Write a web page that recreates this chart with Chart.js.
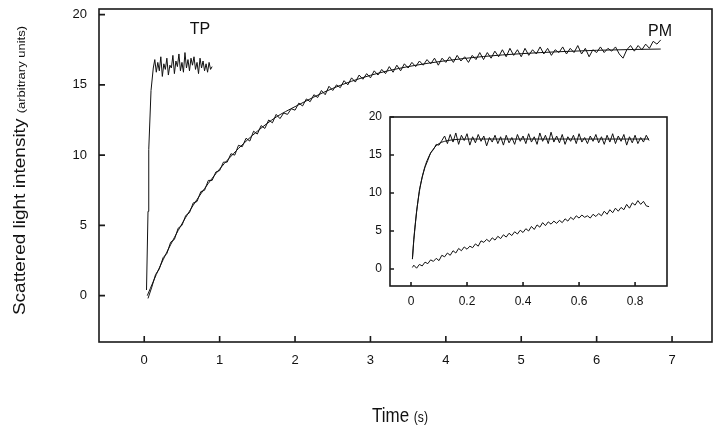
<!DOCTYPE html>
<html>
<head>
<meta charset="utf-8">
<script src="https://cdn.jsdelivr.net/npm/chart.js@4.4.1/dist/chart.umd.min.js"></script>
<style>
  body { margin: 0; background: #fff; }
  #wrap { position: relative; width: 723px; height: 430px; }
  #inset { position: absolute; left: 355px; top: 106px; }
</style>
</head>
<body>
<div id="wrap">
  <canvas id="main" width="723" height="430"></canvas>
  <canvas id="inset" width="322" height="210"></canvas>
</div>
<script>
// ---- data ----
var mainXTicks = [0, 1, 2, 3, 4, 5, 6, 7];
var mainYTicks = [0, 5, 10, 15, 20];
var insetXTicks = [0, 0.2, 0.4, 0.6, 0.8];
var insetYTicks = [0, 5, 10, 15, 20];

// TP trace, main panel (s, arbitrary units)
var tpMainTime = [0.03, 0.05, 0.06, 0.09, 0.12,
  0.14, 0.16, 0.18, 0.20, 0.22, 0.24, 0.26, 0.28, 0.30, 0.32, 0.34, 0.36, 0.38, 0.40, 0.42, 0.44, 0.46, 0.48, 0.50, 0.52,
  0.54, 0.56, 0.58, 0.60, 0.62, 0.64, 0.66, 0.68, 0.70, 0.72, 0.74, 0.76, 0.78, 0.80, 0.82, 0.84, 0.86, 0.88, 0.90];
var tpMainValues = [0.4, 6.0, 10.4, 14.6, 16.2,
  16.8, 15.9, 16.6, 16.0, 17.0, 15.6, 16.5, 16.1, 16.9, 15.7, 16.4, 16.2, 17.1, 15.8, 16.7, 16.3, 17.2, 16.0, 16.6, 15.9,
  17.3, 16.2, 16.8, 16.0, 16.9, 16.4, 17.0, 16.1, 16.6, 15.8, 16.9, 16.2, 16.7, 16.0, 16.5, 15.9, 16.6, 16.1, 16.3];

// PM trace, main panel
var pmMainTime = [
  0.05, 0.1, 0.15, 0.2, 0.25, 0.3, 0.35, 0.4, 0.45, 0.5, 0.55, 0.6, 0.65, 0.7, 0.75, 0.8, 0.85, 0.9, 0.95, 1.0,
  1.05, 1.1, 1.15, 1.2, 1.25, 1.3, 1.35, 1.4, 1.45, 1.5, 1.55, 1.6, 1.65, 1.7, 1.75, 1.8, 1.85, 1.9, 1.95, 2.0,
  2.05, 2.1, 2.15, 2.2, 2.25, 2.3, 2.35, 2.4, 2.45, 2.5, 2.55, 2.6, 2.65, 2.7, 2.75, 2.8, 2.85, 2.9, 2.95, 3.0,
  3.05, 3.1, 3.15, 3.2, 3.25, 3.3, 3.35, 3.4, 3.45, 3.5, 3.55, 3.6, 3.65, 3.7, 3.75, 3.8, 3.85, 3.9, 3.95, 4.0,
  4.05, 4.1, 4.15, 4.2, 4.25, 4.3, 4.35, 4.4, 4.45, 4.5, 4.55, 4.6, 4.65, 4.7, 4.75, 4.8, 4.85, 4.9, 4.95, 5.0,
  5.05, 5.1, 5.15, 5.2, 5.25, 5.3, 5.35, 5.4, 5.45, 5.5, 5.55, 5.6, 5.65, 5.7, 5.75, 5.8, 5.85, 5.9, 5.95, 6.0,
  6.05, 6.1, 6.15, 6.2, 6.25, 6.3, 6.35, 6.4, 6.45, 6.5, 6.55, 6.6, 6.65, 6.7, 6.75, 6.8, 6.85];
var pmMainValues = [
  -0.2, 0.6, 1.5, 1.9, 2.7, 3.0, 3.8, 4.0, 4.8, 5.0, 5.7, 5.9, 6.6, 6.7, 7.4, 7.5, 8.2, 8.2, 8.8, 8.9,
  9.5, 9.5, 10.1, 10.0, 10.7, 10.6, 11.2, 11.0, 11.7, 11.5, 12.1, 11.9, 12.5, 12.3, 12.9, 12.6, 13.0, 12.9, 13.3, 13.2,
  13.7, 13.5, 14.0, 13.8, 14.3, 14.1, 14.6, 14.3, 14.9, 14.6, 15.0, 14.8, 15.3, 15.0, 15.5, 15.2, 15.7, 15.4, 15.8, 15.5,
  16.0, 15.7, 16.1, 15.8, 16.3, 15.9, 16.4, 16.0, 16.5, 16.2, 16.6, 16.3, 16.7, 16.4, 16.8, 16.5, 16.9, 16.4, 16.9, 16.6,
  17.0, 16.6, 17.1, 16.7, 17.0, 16.6, 17.1, 16.8, 17.3, 16.8, 17.3, 16.9, 17.4, 17.0, 17.5, 17.0, 17.6, 17.1, 17.5, 17.0,
  17.6, 17.1, 17.5, 17.2, 17.7, 17.2, 17.6, 17.1, 17.5, 17.3, 17.7, 17.2, 17.6, 17.3, 17.8, 17.2, 17.6, 17.0, 17.5, 17.3,
  17.7, 17.3, 17.6, 17.4, 17.7, 17.2, 16.9, 17.5, 17.8, 17.4, 17.8, 17.5, 17.9, 17.6, 18.1, 17.9, 18.2];

// smooth fit drawn through the PM trace
var pmFitTime = [0.04, 0.2, 0.4, 0.6, 0.8, 1.0, 1.25, 1.5, 1.75, 2.0, 2.5, 3.0, 3.5, 4.0, 4.5, 5.0, 5.5, 6.0, 6.5, 6.85];
var pmFitValues = [0, 1.98, 4.14, 6.01, 7.62, 9.01, 10.47, 11.70, 12.71, 13.45, 14.75, 15.68, 16.30, 16.72, 17.02, 17.22, 17.36, 17.46, 17.52, 17.55];

// inset: first 0.85 s on a finer time base
var insetTime = [0.005,
  0.01, 0.02, 0.03, 0.04, 0.05, 0.06, 0.07, 0.08, 0.09, 0.10, 0.11, 0.12, 0.13, 0.14, 0.15, 0.16, 0.17, 0.18, 0.19, 0.20,
  0.21, 0.22, 0.23, 0.24, 0.25, 0.26, 0.27, 0.28, 0.29, 0.30, 0.31, 0.32, 0.33, 0.34, 0.35, 0.36, 0.37, 0.38, 0.39, 0.40,
  0.41, 0.42, 0.43, 0.44, 0.45, 0.46, 0.47, 0.48, 0.49, 0.50, 0.51, 0.52, 0.53, 0.54, 0.55, 0.56, 0.57, 0.58, 0.59, 0.60,
  0.61, 0.62, 0.63, 0.64, 0.65, 0.66, 0.67, 0.68, 0.69, 0.70, 0.71, 0.72, 0.73, 0.74, 0.75, 0.76, 0.77, 0.78, 0.79, 0.80,
  0.81, 0.82, 0.83, 0.84, 0.85];
var tpInsetValues = [1.3,
  3.8, 7.6, 10.4, 12.1, 13.4, 14.3, 15.3, 15.7, 16.4, 16.3,
  16.9, 17.5, 16.5, 17.7, 16.7, 17.9, 16.4, 17.6, 16.9, 17.8, 16.3, 17.4, 16.6, 17.7, 16.8, 17.5, 16.2, 17.3, 16.7, 17.6,
  16.5, 17.4, 16.3, 17.6, 16.6, 17.3, 16.4, 17.7, 16.8, 17.5, 16.5, 17.8, 16.7, 17.4, 16.4, 17.9, 16.8, 17.6, 16.5, 18.0,
  16.7, 17.5, 16.6, 17.7, 16.4, 17.4, 16.8, 17.6, 16.5, 17.8, 16.7, 17.3, 16.5, 17.5, 16.8, 17.7, 16.6, 17.4, 16.4, 17.6,
  16.7, 17.8, 16.5, 17.5, 16.8, 17.7, 16.3, 17.4, 16.6, 17.6, 16.5, 17.3, 16.7, 17.6, 16.9];
var pmInsetValues = [0.2,
  0.5, 0.1, 0.6, 0.4, 0.9, 0.7, 1.2, 1.0, 1.4, 1.1, 1.8, 1.6, 2.1, 1.8, 2.4, 2.1, 2.7, 2.4, 2.9, 2.6,
  3.0, 2.8, 3.3, 3.0, 3.7, 3.5, 3.9, 3.6, 4.1, 3.8, 4.3, 4.0, 4.5, 4.2, 4.7, 4.4, 4.9, 4.6, 5.1, 4.8,
  5.3, 5.0, 5.6, 5.2, 5.8, 5.5, 6.1, 5.7, 6.2, 5.9, 6.3, 6.0, 6.4, 6.1, 6.6, 6.3, 6.8, 6.5, 7.0, 6.7,
  7.1, 6.8, 7.0, 6.7, 7.2, 6.9, 7.3, 7.0, 7.6, 7.2, 7.8, 7.4, 8.0, 7.6, 8.1, 7.8, 8.5, 8.0, 8.7, 8.4,
  9.0, 8.5, 8.9, 8.3, 8.2];
var tpInsetFitTime = [0.005, 0.01, 0.02, 0.03, 0.04, 0.05, 0.06, 0.08, 0.10, 0.12, 0.15, 0.2, 0.3, 0.5, 0.85];
var tpInsetFitValues = [1.3, 3.9, 7.5, 10.2, 12.1, 13.5, 14.5, 15.8, 16.5, 16.8, 17.0, 17.1, 17.1, 17.1, 17.1];

var FONT = '"Liberation Sans", Arial, Helvetica, sans-serif';
var INK = '#111';

function line(xs, ys, smooth) {
  return {
    data: xs.map(function(x, i) { return { x: x, y: ys[i] }; }),
    showLine: true,
    borderColor: INK,
    borderWidth: 1,
    pointRadius: 0,
    fill: false,
    cubicInterpolationMode: smooth ? 'monotone' : 'default'
  };
}

// box around the plot area with ticks pointing inwards
var framePlugin = {
  id: 'frame',
  afterDraw: function(chart, args, opts) {
    var ctx = chart.ctx, a = chart.chartArea;
    var xs = chart.scales.x, ys = chart.scales.y;
    ctx.save();
    ctx.strokeStyle = '#1a1a1a';
    ctx.lineWidth = opts.lineWidth;
    ctx.strokeRect(a.left, a.top, a.right - a.left, a.bottom - a.top);
    ctx.beginPath();
    xs.ticks.forEach(function(t) {
      var px = xs.getPixelForValue(t.value);
      ctx.moveTo(px, a.bottom);
      ctx.lineTo(px, a.bottom - opts.tick);
    });
    ys.ticks.forEach(function(t) {
      var py = ys.getPixelForValue(t.value);
      ctx.moveTo(a.left, py);
      ctx.lineTo(a.left + opts.tick, py);
    });
    ctx.stroke();
    ctx.restore();
  }
};

// draws text made of parts in different sizes along one baseline
function drawParts(ctx, parts) {
  var total = 0;
  parts.forEach(function(p) {
    ctx.font = p.size + 'px ' + FONT;
    p.w = ctx.measureText(p.text).width;
    total += p.w;
  });
  var x = -total / 2;
  parts.forEach(function(p) {
    ctx.font = p.size + 'px ' + FONT;
    ctx.fillText(p.text, x, 0);
    x += p.w;
  });
}

// axis titles and curve labels of the main panel
var textPlugin = {
  id: 'texts',
  afterDraw: function(chart, args, opts) {
    var ctx = chart.ctx, xs = chart.scales.x, ys = chart.scales.y;
    ctx.save();
    ctx.fillStyle = INK;
    ctx.textBaseline = 'alphabetic';
    ctx.textAlign = 'left';

    ctx.save();
    ctx.translate(25, 170.5);
    ctx.scale(0.87, 1);
    ctx.rotate(-Math.PI / 2);
    drawParts(ctx, [{ text: 'Scattered light intensity ', size: 19 }, { text: '(arbitrary units)', size: 13 }]);
    ctx.restore();

    ctx.save();
    ctx.translate(400, 422);
    ctx.scale(0.87, 1);
    drawParts(ctx, [{ text: 'Time ', size: 19.5 }, { text: '(s)', size: 14 }]);
    ctx.restore();

    ctx.font = '16px ' + FONT;
    ctx.textAlign = 'center';
    ctx.textBaseline = 'middle';
    opts.labels.forEach(function(l) {
      ctx.fillText(l.text, xs.getPixelForValue(l.x), ys.getPixelForValue(l.y));
    });
    ctx.restore();
  }
};

function axis(min, max, tickList, size, pad, fontSize, horizontal) {
  return {
    type: 'linear',
    min: min,
    max: max,
    afterBuildTicks: function(scale) {
      scale.ticks = tickList.map(function(v) { return { value: v }; });
    },
    afterFit: function(scale) {
      if (horizontal) { scale.height = size; } else { scale.width = size; }
      // keep the plot box where the layout padding puts it
      scale.paddingTop = 0;
      scale.paddingBottom = 0;
      scale.paddingLeft = 0;
      scale.paddingRight = 0;
    },
    grid: { display: false, drawTicks: false },
    border: { display: false },
    ticks: {
      padding: pad,
      autoSkip: false,
      maxRotation: 0,
      color: INK,
      font: { family: FONT, size: fontSize },
      callback: function(v) { return String(v); }
    }
  };
}

new Chart(document.getElementById('main'), {
  type: 'scatter',
  data: {
    datasets: [
      line(tpMainTime, tpMainValues),
      line(pmMainTime, pmMainValues),
      line(pmFitTime, pmFitValues, true)
    ]
  },
  options: {
    responsive: false,
    animation: false,
    events: [],
    layout: { padding: { top: 9, right: 11, left: 0, bottom: 0 } },
    plugins: {
      legend: { display: false },
      tooltip: { enabled: false },
      frame: { lineWidth: 1.6, tick: 6 },
      texts: { labels: [{ text: 'TP', x: 0.74, y: 18.9 }, { text: 'PM', x: 6.84, y: 18.8 }] }
    },
    scales: {
      x: axis(-0.6, 7.53, mainXTicks, 88, 11, 13, true),
      y: axis(-3.3, 20.4, mainYTicks, 99, 12, 13, false)
    }
  },
  plugins: [framePlugin, textPlugin]
});

new Chart(document.getElementById('inset'), {
  type: 'scatter',
  data: {
    datasets: [
      line(insetTime, tpInsetValues),
      line(tpInsetFitTime, tpInsetFitValues, true),
      line(insetTime, pmInsetValues)
    ]
  },
  options: {
    responsive: false,
    animation: false,
    events: [],
    layout: { padding: { top: 11, right: 10, left: 0, bottom: 0 } },
    plugins: {
      legend: { display: false },
      tooltip: { enabled: false },
      frame: { lineWidth: 1.6, tick: 4 }
    },
    scales: {
      x: axis(-0.075, 0.914, insetXTicks, 30, 8, 12, true),
      y: axis(-2.24, 20, insetYTicks, 35, 8, 12, false)
    }
  },
  plugins: [framePlugin]
});
</script>
</body>
</html>
